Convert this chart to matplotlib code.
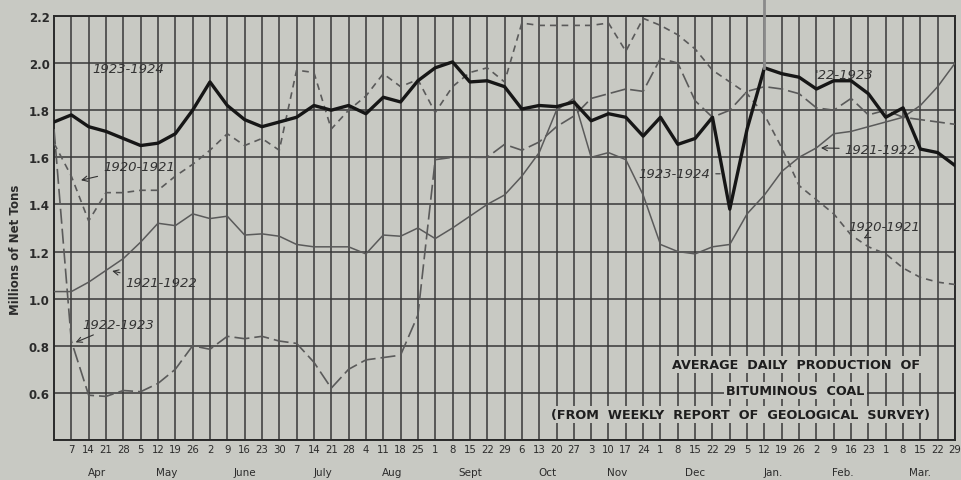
import matplotlib
matplotlib.use("Agg")
import matplotlib.pyplot as plt
import matplotlib.transforms as mtransforms
import numpy as np

# week-ending days, Apr 7 .. Mar 29 (first data point is the week before Apr 7)
day_labels = [7, 14, 21, 28, 5, 12, 19, 26, 2, 9, 16, 23, 30, 7, 14, 21, 28,
              4, 11, 18, 25, 1, 8, 15, 22, 29, 6, 13, 20, 27, 3, 10, 17, 24,
              1, 8, 15, 22, 29, 5, 12, 19, 26, 2, 9, 16, 23, 1, 8, 15, 22, 29]
months = ["Apr", "May", "June", "July", "Aug", "Sept", "Oct", "Nov", "Dec",
          "Jan.", "Feb.", "Mar."]
weeks_in_month = [4, 4, 5, 4, 4, 5, 4, 4, 5, 4, 4, 5]

y_ticks = [0.4, 0.6, 0.8, 1.0, 1.2, 1.4, 1.6, 1.8, 2.0, 2.2]
y_ticklabels = ["", "0.6", "0.8", "1.0", "1.2", "1.4", "1.6", "1.8", "2.0", "2.2"]

# millions of net tons per day
prod_1923_24 = [1.75, 1.78, 1.73, 1.71, 1.68, 1.65, 1.66, 1.70, 1.80, 1.92, 1.82,
                1.76, 1.73, 1.75, 1.77, 1.82, 1.80, 1.82, 1.785, 1.855, 1.835,
                1.925, 1.98, 2.005, 1.92, 1.925, 1.90, 1.805, 1.82, 1.815, 1.835,
                1.755, 1.785, 1.77, 1.69, 1.77, 1.655, 1.68, 1.77, 1.38, 1.72,
                1.98, 1.955, 1.94, 1.89, 1.925, 1.925, 1.87, 1.77, 1.81, 1.635,
                1.62, 1.565]
prod_1920_21 = [1.66, 1.52, 1.33, 1.45, 1.45, 1.46, 1.46, 1.52, 1.57, 1.63, 1.70,
                1.65, 1.68, 1.63, 1.97, 1.96, 1.72, 1.80, 1.86, 1.955, 1.90,
                1.93, 1.79, 1.90, 1.96, 1.98, 1.92, 2.17, 2.16, 2.16, 2.16, 2.16,
                2.17, 2.05, 2.19, 2.16, 2.12, 2.06, 1.97, 1.92, 1.87, 1.78, 1.64,
                1.48, 1.42, 1.36, 1.27, 1.22, 1.19, 1.13, 1.09, 1.07, 1.06]
prod_1921_22 = [1.03, 1.03, 1.07, 1.12, 1.17, 1.24, 1.32, 1.31, 1.36, 1.34, 1.35,
                1.27, 1.275, 1.265, 1.23, 1.22, 1.22, 1.22, 1.19, 1.27, 1.265,
                1.30, 1.255, 1.30, 1.35, 1.40, 1.44, 1.52, 1.62, 1.80, 1.85,
                1.60, 1.62, 1.59, 1.44, 1.23, 1.20, 1.19, 1.22, 1.23, 1.36, 1.44,
                1.54, 1.60, 1.64, 1.70, 1.71, 1.73, 1.75, 1.77, 1.82, 1.90, 2.00]
prod_1922_23 = [1.72, 0.82, 0.59, 0.585, 0.61, 0.605, 0.64, 0.70, 0.80, 0.785,
                0.84, 0.83, 0.84, 0.82, 0.81, 0.73, 0.62, 0.70, 0.74, 0.75, 0.76,
                0.93, 1.59, 1.60, 1.60, 1.60, 1.655, 1.63, 1.665, 1.73, 1.775,
                1.85, 1.87, 1.89, 1.88, 2.02, 2.00, 1.84, 1.77, 1.80, 1.88, 1.90,
                1.89, 1.87, 1.81, 1.80, 1.85, 1.78, 1.80, 1.77, 1.76, 1.75, 1.74]

bg = "#c8c9c3"
ink = "#2b2b2b"
pencil = "#5a5a5a"

x = np.arange(-1, len(day_labels))
weeks = np.arange(len(day_labels))

fig = plt.figure(figsize=(9.61, 4.81), dpi=100, facecolor=bg)
ax = fig.add_axes([0.0562, 0.0832, 0.9376, 0.8815])
ax.set_facecolor(bg)

ax.set_xlim(-1, 51)
ax.set_ylim(0.4, 2.2)
ax.set_xticks(weeks)
ax.set_xticklabels([str(d) for d in day_labels], fontsize=7.3, color=ink)
ax.set_yticks(y_ticks)
ax.set_yticklabels(y_ticklabels, fontsize=8.5, fontweight="bold", color=ink)
ax.tick_params(length=0, pad=3)
ax.grid(True, color="#383838", linewidth=1.1)
ax.set_axisbelow(True)
for s in ax.spines.values():
    s.set_color("#2a2a2a")
    s.set_linewidth(1.4)

# month names under the week numbers
trans = mtransforms.blended_transform_factory(ax.transData, ax.transAxes)
start = 0
for name, n in zip(months, weeks_in_month):
    ax.text(np.mean(weeks[start:start + n]), -0.075, name, transform=trans,
            ha="center", va="center", fontsize=7.5, color=ink)
    start += n

fig.text(0.016, 0.48, "Millions of Net Tons", rotation=90, ha="center",
         va="center", fontsize=8.5, fontweight="bold", color=ink)

ax.plot(x, prod_1920_21, color=pencil, lw=1.2, dashes=(4, 3), zorder=3)
ax.plot(x, prod_1922_23, color=pencil, lw=1.2, dashes=(9, 3), zorder=3)
ax.plot(x, prod_1921_22, color=pencil, lw=1.1, zorder=3)
ax.plot(x, prod_1923_24, color="#161616", lw=2.4, zorder=4)
ax.plot([40, 40], [1.98, 2.27], color="#8a8a8a", lw=2, clip_on=False, zorder=4)

lab = dict(fontsize=9.5, style="italic", color="#333333", zorder=5)
arr = dict(arrowstyle="->", color="#333333", lw=0.8)
ax.text(3.3, 1.975, "1923-1924", ha="center", va="center", **lab)
ax.annotate("1920-1921", xy=(0.4, 1.50), xytext=(3.9, 1.56), ha="center",
            va="center", arrowprops=arr, **lab)
ax.annotate("1921-1922", xy=(2.2, 1.12), xytext=(5.2, 1.07), ha="center",
            va="center", arrowprops=arr, **lab)
ax.annotate("1922-1923", xy=(0.1, 0.81), xytext=(2.7, 0.89), ha="center",
            va="center", arrowprops=arr, **lab)
ax.annotate("1923-1924", xy=(37.6, 1.53), xytext=(34.8, 1.53), ha="center",
            va="center", arrowprops=dict(arrowstyle="-", color="#333333", lw=0.8),
            **lab)
ax.text(44.6, 1.95, "'22-1923", ha="center", va="center", **lab)
ax.annotate("1921-1922", xy=(43.1, 1.64), xytext=(46.7, 1.635), ha="center",
            va="center", arrowprops=arr, **lab)
ax.annotate("1920-1921", xy=(45.6, 1.25), xytext=(46.9, 1.305), ha="center",
            va="center", arrowprops=arr, **lab)

box = dict(facecolor=bg, edgecolor="none", pad=1.5)
title = dict(fontsize=9.2, fontweight="bold", color="#1e1e1e", ha="center",
             va="center", bbox=box, zorder=6)
ax.text(41.8, 0.72, "AVERAGE  DAILY  PRODUCTION  OF", **title)
ax.text(41.8, 0.61, "BITUMINOUS  COAL", **title)
ax.text(38.6, 0.51, "(FROM  WEEKLY  REPORT  OF  GEOLOGICAL  SURVEY)", **title)

fig.savefig("out.png", dpi=100, facecolor=bg)
